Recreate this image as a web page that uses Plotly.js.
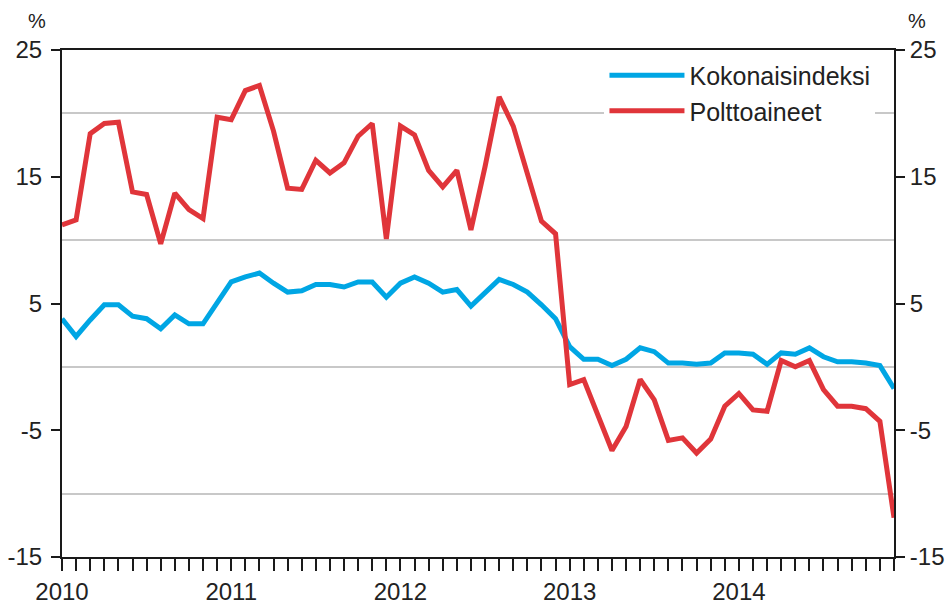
<!DOCTYPE html>
<html>
<head>
<meta charset="utf-8">
<script src="https://cdn.plot.ly/plotly-3.0.1.min.js"></script>
<style>html,body{margin:0;padding:0;background:#fff;}#chart{width:945px;height:605px;}</style>
</head>
<body>
<div id="chart"></div>
<script>
// Months 2010-01 .. 2014-12
const years = [2010, 2011, 2012, 2013, 2014];
const monthNums = ["01","02","03","04","05","06","07","08","09","10","11","12"];
const months = [];
years.forEach(y => monthNums.forEach(m => months.push(y + "-" + m)));

const yearLabels = ["2010", "2011", "2012", "2013", "2014"];

const kokonaisindeksi = [
  3.8, 2.4, 3.7, 4.9, 4.9, 4.0, 3.8, 3.0, 4.1, 3.4, 3.4, 5.1,
  6.7, 7.1, 7.4, 6.6, 5.9, 6.0, 6.5, 6.5, 6.3, 6.7, 6.7, 5.5,
  6.6, 7.1, 6.6, 5.9, 6.1, 4.8, 5.8, 6.9, 6.5, 5.9, 4.9, 3.8,
  1.6, 0.6, 0.6, 0.1, 0.6, 1.5, 1.2, 0.3, 0.3, 0.2, 0.3, 1.1,
  1.1, 1.0, 0.2, 1.1, 1.0, 1.5, 0.8, 0.4, 0.4, 0.3, 0.1, -1.7
];

const polttoaineet = [
  11.2, 11.6, 18.4, 19.2, 19.3, 13.8, 13.6, 9.7, 13.7, 12.4, 11.7, 19.7,
  19.5, 21.8, 22.2, 18.6, 14.1, 14.0, 16.3, 15.3, 16.1, 18.2, 19.2, 10.1,
  19.0, 18.3, 15.5, 14.2, 15.5, 10.8, 15.8, 21.3, 19.0, 15.3, 11.5, 10.5,
  -1.4, -1.0, -3.7, -6.6, -4.7, -1.0, -2.6, -5.8, -5.6, -6.8, -5.7, -3.1,
  -2.1, -3.4, -3.5, 0.5, 0.0, 0.5, -1.8, -3.1, -3.1, -3.3, -4.3, -11.9
];

const seriesNames = ["Kokonaisindeksi", "Polttoaineet"];
const yTicks = [-15, -5, 5, 15, 25];

const tickText = months.map(m => m.endsWith("-01") ? m.slice(0, 4) : "");

const axisColor = "#1a1a1a";
const fontFam = "'Liberation Sans', Arial, sans-serif";
const textColor = "#222222";

const traces = [
  {
    x: months, y: kokonaisindeksi, name: seriesNames[0], type: "scatter", mode: "lines",
    line: {color: "#00a6e4", width: 5}, xaxis: "x", yaxis: "y", hoverinfo: "skip"
  },
  {
    x: months, y: polttoaineet, name: seriesNames[1], type: "scatter", mode: "lines",
    line: {color: "#e0353a", width: 5}, xaxis: "x", yaxis: "y2", hoverinfo: "skip"
  }
];

const layout = {
  width: 945, height: 605,
  margin: {l: 62, r: 51, t: 50, b: 48},
  paper_bgcolor: "#ffffff", plot_bgcolor: "#ffffff",
  font: {family: fontFam, size: 24, color: textColor},
  showlegend: true,
  legend: {
    x: 0.652, xanchor: "left", y: 0.995, yanchor: "top",
    bgcolor: "#ffffff", borderwidth: 0,
    font: {family: fontFam, size: 25, color: textColor},
    itemwidth: 75, tracegroupgap: 0
  },
  xaxis: {
    type: "category", categoryorder: "array", categoryarray: months,
    range: [0, months.length - 1],
    tickmode: "array", tickvals: months, ticktext: tickText,
    ticks: "outside", ticklen: 12, tickwidth: 2, tickcolor: axisColor,
    showline: true, linecolor: axisColor, linewidth: 2, mirror: true,
    showgrid: false, zeroline: false, tickangle: 0,
    ticklabelstandoff: 0,
    tickfont: {family: fontFam, size: 24, color: textColor}
  },
  yaxis: {
    range: [-15, 25], tickmode: "array", tickvals: yTicks, ticktext: yTicks.map(String),
    ticks: "outside", ticklen: 9, tickwidth: 2, tickcolor: axisColor,
    showline: true, linecolor: axisColor, linewidth: 2,
    showgrid: false, zeroline: false,
    minor: {tick0: -10, dtick: 10, showgrid: true, gridcolor: "#c8c8c8", gridwidth: 2, ticks: ""},
    tickfont: {family: fontFam, size: 24, color: textColor},
    ticklabelstandoff: 4
  },
  yaxis2: {
    overlaying: "y", side: "right",
    range: [-15, 25], tickmode: "array", tickvals: yTicks, ticktext: yTicks.map(String),
    ticks: "outside", ticklen: 9, tickwidth: 2, tickcolor: axisColor,
    showline: true, linecolor: axisColor, linewidth: 2,
    showgrid: false, zeroline: false,
    tickfont: {family: fontFam, size: 24, color: textColor}
  },
  annotations: [
    {text: "%", xref: "paper", yref: "paper", x: -0.03, y: 1.0, yshift: 29, xanchor: "center", yanchor: "middle",
     showarrow: false, font: {family: fontFam, size: 20, color: textColor}},
    {text: "%", xref: "paper", yref: "paper", x: 1.0, xshift: 23, y: 1.0, yshift: 29, xanchor: "center", yanchor: "middle",
     showarrow: false, font: {family: fontFam, size: 20, color: textColor}}
  ]
};

Plotly.newPlot("chart", traces, layout, {staticPlot: true, displayModeBar: false});
</script>
</body>
</html>
